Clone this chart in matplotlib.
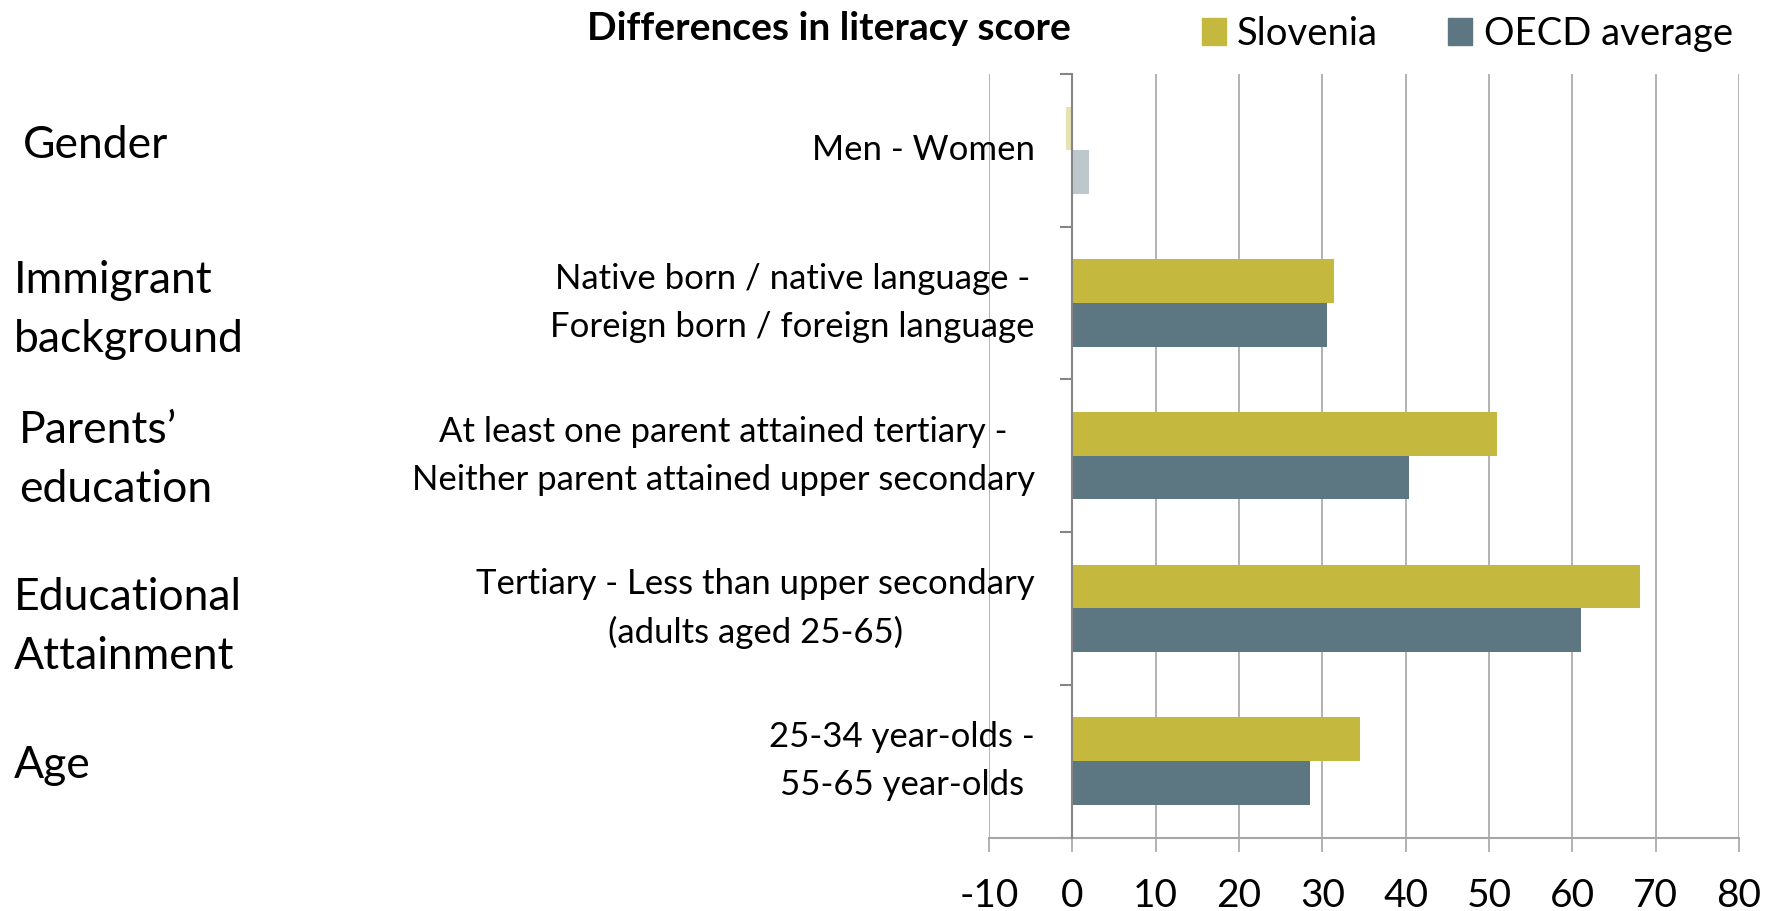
import matplotlib
matplotlib.use("Agg")
import matplotlib.pyplot as plt
import numpy as np
from matplotlib.patches import Patch

plt.rcParams['font.family'] = ['Lato', 'DejaVu Sans']

groups = ["Gender", "Immigrant\nbackground", "Parents’\neducation",
          "Educational\nAttainment", "Age"]
comparisons = ["Men - Women",
               "Native born / native language -\nForeign born / foreign language",
               "At least one parent attained tertiary -\nNeither parent attained upper secondary",
               "Tertiary - Less than upper secondary\n(adults aged 25-65)",
               "25-34 year-olds -\n55-65 year-olds"]
slovenia = [-0.8, 31.4, 51.0, 68.1, 34.5]
oecd = [2.0, 30.5, 40.4, 61.0, 28.5]
faded = [True, False, False, False, False]
xticks = [-10, 0, 10, 20, 30, 40, 50, 60, 70, 80]

c_slo = "#C4B83F"
c_oecd = "#5C7781"
grid_c = "#A6A6A6"
axis_c = "#868686"

W, H = 1773, 911
fig = plt.figure(figsize=(W / 100, H / 100), dpi=100)
ax = fig.add_axes([989 / W, 1 - 837.5 / H, (1739 - 989) / W, (837.5 - 74) / H])

y = np.arange(len(groups))
bh = 0.286
for i in range(len(groups)):
    a = 0.4 if faded[i] else 1.0
    ax.barh(y[i] - bh / 2, slovenia[i], height=bh, color=c_slo, alpha=a, zorder=3)
    ax.barh(y[i] + bh / 2, oecd[i], height=bh, color=c_oecd, alpha=a, zorder=3)

ax.set_xlim(-10, 80)
ax.set_ylim(len(groups) - 0.5, -0.5)
ax.set_xticks(xticks)
ax.set_xticklabels([str(t) for t in xticks], fontsize=28)
ax.xaxis.grid(True, color=grid_c, linewidth=1.2, zorder=0)
ax.set_axisbelow(True)

for s in ["top", "right"]:
    ax.spines[s].set_visible(False)
ax.spines["left"].set_position(("data", 0))
ax.spines["left"].set_color(axis_c)
ax.spines["left"].set_linewidth(1.5)
ax.spines["left"].set_zorder(4)
ax.spines["bottom"].set_color(grid_c)
ax.spines["bottom"].set_linewidth(1.5)

ax.tick_params(axis="x", direction="out", length=10, width=1.2, color=grid_c, pad=19)
ax.set_yticks(y)
ax.set_yticklabels(comparisons, fontsize=25, linespacing=1.6)
ax.tick_params(axis="y", which="major", length=0, pad=27)
ax.set_yticks(np.arange(-0.5, len(groups), 1.0), minor=True)
ax.tick_params(axis="y", which="minor", direction="out", length=9, width=1.5, color=axis_c)
for lbl in ax.get_yticklabels():
    lbl.set_multialignment("center")
    lbl.set_verticalalignment("center")

# group labels on the left
group_y = [146, 310, 460, 627, 766]
group_x = [23, 14, 19, 14, 14]
for g, gx, gy in zip(groups, group_x, group_y):
    fig.text(gx / W, 1 - gy / H, g, fontsize=32, ha="left", va="center", linespacing=1.55)

fig.text(829 / W, 1 - 29 / H, "Differences in literacy score", fontsize=28,
         fontweight="bold", ha="center", va="center")

handles = [Patch(color=c_slo), Patch(color=c_oecd)]
fig.legend(handles, ["Slovenia", "OECD average"], loc="center left",
           bbox_to_anchor=(1202 / W, 1 - 34 / H), ncol=2, frameon=False,
           fontsize=27.5, handlelength=0.62, handleheight=0.7, handletextpad=0.3,
           columnspacing=1.84, borderpad=0, borderaxespad=0)

fig.savefig("out.png", dpi=100)
